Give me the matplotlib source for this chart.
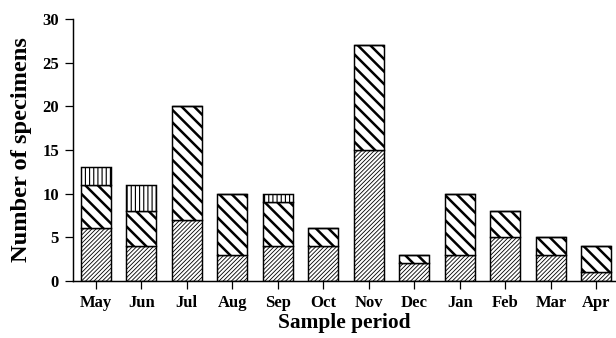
import matplotlib
matplotlib.use('Agg')
import matplotlib.pyplot as plt
import numpy as np

plt.rcParams['font.family'] = 'Liberation Serif'
plt.rcParams['font.weight'] = 'bold'

# 月ごとの標本数（3区分の積み上げ）
months = ["May", "Jun", "Jul", "Aug", "Sep", "Oct", "Nov", "Dec", "Jan", "Feb", "Mar", "Apr"]
bottom_vals = [6, 4, 7, 3, 4, 4, 15, 2, 3, 5, 3, 1]
middle_vals = [5, 4, 13, 7, 5, 2, 12, 1, 7, 3, 2, 3]
top_vals = [2, 3, 0, 0, 1, 0, 0, 0, 0, 0, 0, 0]

x = np.arange(len(months))
width = 0.66

fig = plt.figure(figsize=(616 / 75, 338 / 75), dpi=75)
ax = fig.add_axes([0.1185, 0.169, 0.8815, 0.775])

b1 = ax.bar(x, bottom_vals, width, color='white', edgecolor='black', linewidth=1.4, hatch='//////')
b2 = ax.bar(x, middle_vals, width, bottom=bottom_vals, color='white', edgecolor='black',
            linewidth=1.4, hatch='\\\\')
b3 = ax.bar(x, top_vals, width, bottom=np.array(bottom_vals) + np.array(middle_vals),
            color='white', edgecolor='black', linewidth=1.4, hatch='|||')

for bars, hw in [(b1, 0.8), (b2, 2.4), (b3, 1.1)]:
    for p in bars:
        try:
            p.set_hatch_linewidth(hw)
        except AttributeError:
            pass

ax.set_xlim(-0.5, 11.43)
ax.set_ylim(0, 30)
ax.set_yticks([0, 5, 10, 15, 20, 25, 30])
ax.set_xticks(x)
ax.set_xticklabels(months)
ax.spines['top'].set_visible(False)
ax.spines['right'].set_visible(False)
ax.spines['left'].set_linewidth(1.4)
ax.spines['bottom'].set_linewidth(1.4)
ax.tick_params(axis='both', direction='out', length=7.5, width=1.2, labelsize=16, pad=6)
ax.tick_params(axis='x', pad=6)
ax.set_xlabel('Sample period', fontsize=20.5, fontweight='bold', labelpad=2)
ax.set_ylabel('Number of specimens', fontsize=23.5, fontweight='bold', labelpad=10)

fig.savefig('out.png', dpi=75)
